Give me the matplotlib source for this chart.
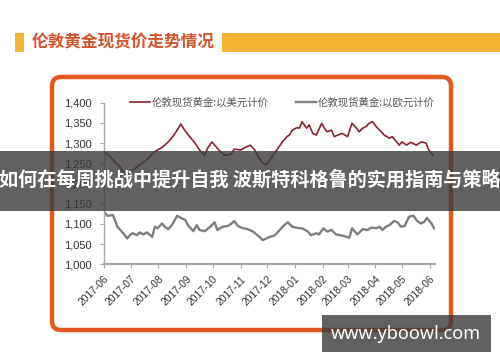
import matplotlib
matplotlib.use("Agg")
import matplotlib.pyplot as plt
import matplotlib.dates as mdates
import matplotlib.ticker as mticker
from matplotlib.patches import Rectangle, FancyBboxPatch
import pandas as pd

plt.rcParams["font.family"] = ["Liberation Sans", "Noto Sans CJK SC"]

title = "伦敦黄金现货价走势情况"
label_usd = "伦敦现货黄金:以美元计价"
label_eur = "伦敦现货黄金:以欧元计价"
banner = "如何在每周挑战中提升自我 波斯特科格鲁的实用指南与策略"
site = "www.yboowl.com"

usd_dates = [
    "2017-06-01", "2017-06-08", "2017-06-13", "2017-06-19", "2017-06-24", "2017-06-28",
    "2017-07-03", "2017-07-11", "2017-07-19", "2017-07-26", "2017-07-31", "2017-08-06",
    "2017-08-12", "2017-08-17", "2017-08-22", "2017-08-26", "2017-08-31", "2017-09-05",
    "2017-09-11", "2017-09-16", "2017-09-22", "2017-09-25", "2017-09-30", "2017-10-03",
    "2017-10-09", "2017-10-14", "2017-10-21", "2017-10-25", "2017-11-01", "2017-11-07",
    "2017-11-12", "2017-11-17", "2017-11-21", "2017-11-26", "2017-11-30", "2017-12-05",
    "2017-12-13", "2017-12-18", "2017-12-23", "2017-12-26", "2017-12-29", "2018-01-03",
    "2018-01-06", "2018-01-09", "2018-01-14", "2018-01-17", "2018-01-21", "2018-01-25",
    "2018-01-31", "2018-02-03", "2018-02-06", "2018-02-11", "2018-02-14", "2018-02-18",
    "2018-02-23", "2018-03-01", "2018-03-06", "2018-03-11", "2018-03-14", "2018-03-18",
    "2018-03-22", "2018-03-25", "2018-03-29", "2018-04-02", "2018-04-06", "2018-04-11",
    "2018-04-17", "2018-04-20", "2018-04-25", "2018-04-28", "2018-05-01", "2018-05-06",
    "2018-05-11", "2018-05-17", "2018-05-23", "2018-05-28", "2018-05-31", "2018-06-05",
]
usd_values = [
    1279, 1266, 1254, 1241, 1223, 1218,
    1233, 1246, 1258, 1275, 1283, 1291,
    1303, 1316, 1332, 1347, 1330, 1316,
    1300, 1283, 1270, 1287, 1303, 1295,
    1280, 1270, 1272, 1285, 1283, 1290,
    1295, 1283, 1266, 1250, 1246, 1262,
    1287, 1303, 1316, 1320, 1332, 1338,
    1337, 1353, 1337, 1345, 1324, 1320,
    1349, 1337, 1328, 1332, 1316, 1320,
    1324, 1316, 1349, 1337, 1328, 1337,
    1341, 1349, 1353, 1341, 1332, 1320,
    1312, 1316, 1303, 1295, 1303, 1295,
    1302, 1295, 1303, 1300, 1283, 1269,
]

eur_dates = [
    "2017-06-01", "2017-06-05", "2017-06-11", "2017-06-16", "2017-06-21", "2017-06-27",
    "2017-06-30", "2017-07-03", "2017-07-08", "2017-07-11", "2017-07-15", "2017-07-19",
    "2017-07-25", "2017-07-28", "2017-07-31", "2017-08-05", "2017-08-08", "2017-08-12",
    "2017-08-16", "2017-08-22", "2017-08-27", "2017-08-31", "2017-09-03", "2017-09-09",
    "2017-09-13", "2017-09-16", "2017-09-22", "2017-09-28", "2017-10-03", "2017-10-06",
    "2017-10-12", "2017-10-18", "2017-10-22", "2017-10-25", "2017-10-29", "2017-11-03",
    "2017-11-09", "2017-11-15", "2017-11-20", "2017-11-26", "2017-11-30", "2017-12-04",
    "2017-12-09", "2017-12-15", "2017-12-20", "2017-12-24", "2017-12-29", "2018-01-04",
    "2018-01-09", "2018-01-15", "2018-01-19", "2018-01-25", "2018-01-28", "2018-02-02",
    "2018-02-06", "2018-02-11", "2018-02-16", "2018-02-23", "2018-03-03", "2018-03-06",
    "2018-03-12", "2018-03-18", "2018-03-23", "2018-03-28", "2018-04-02", "2018-04-06",
    "2018-04-09", "2018-04-13", "2018-04-17", "2018-04-22", "2018-04-26", "2018-04-30",
    "2018-05-04", "2018-05-09", "2018-05-14", "2018-05-18", "2018-05-22", "2018-05-26",
    "2018-05-29", "2018-06-03", "2018-06-06",
]
eur_values = [
    1130, 1120, 1122, 1093, 1081, 1064,
    1072, 1077, 1072, 1079, 1074, 1079,
    1068, 1093, 1089, 1101, 1093, 1087,
    1097, 1120, 1114, 1110, 1097, 1082,
    1097, 1085, 1082, 1093, 1104, 1085,
    1093, 1095, 1101, 1107, 1095, 1090,
    1087, 1081, 1072, 1060, 1064, 1068,
    1071, 1085, 1097, 1104, 1093, 1090,
    1089, 1082, 1072, 1077, 1074, 1089,
    1081, 1085, 1074, 1071, 1066, 1089,
    1074, 1087, 1085, 1091, 1089, 1093,
    1085, 1093, 1097, 1107, 1104, 1093,
    1095, 1118, 1120, 1107, 1101, 1105,
    1115, 1101, 1089,
]

y_ticks = [1000, 1050, 1100, 1150, 1200, 1250, 1300, 1350, 1400]

W, H = 500, 362
fig = plt.figure(figsize=(W / 100, H / 100), dpi=100)
fig.patch.set_facecolor("white")

# background layer in pixel coordinates: title bar and rounded frame
bg = fig.add_axes([0, 0, 1, 1], zorder=0)
bg.set_xlim(0, W)
bg.set_ylim(H, 0)
bg.axis("off")
bg.add_patch(Rectangle((15, 33), 9, 19, facecolor="#F5B433", edgecolor="none"))
bg.add_patch(Rectangle((222, 33), 278, 19, facecolor="#F5B433", edgecolor="none"))
bg.text(32, 42.5, title, ha="left", va="center", fontsize=12, fontweight="bold",
        color="#D4542A", family=["Noto Sans CJK SC"])
bg.add_patch(FancyBboxPatch((52, 77), 399, 253,
                            boxstyle="round,pad=0,rounding_size=9",
                            facecolor="white", edgecolor="#E2591F", linewidth=3.2))

# chart
ax = fig.add_axes([104 / W, 1 - 264.3 / H, 331 / W, 161.6 / H], zorder=1)
ax.patch.set_alpha(0)
ax.plot(pd.to_datetime(usd_dates), usd_values, color="#8B2232", lw=1.2, label=label_usd)
ax.plot(pd.to_datetime(eur_dates), eur_values, color="#7F7F7F", lw=1.7, label=label_eur)

ax.set_ylim(1000, 1400)
ax.set_yticks(y_ticks)
ax.yaxis.set_major_formatter(mticker.FuncFormatter(lambda v, p: f"{int(v):,}"))
ax.set_xlim(pd.Timestamp("2017-06-01"), pd.Timestamp("2018-06-07"))
ax.xaxis.set_major_locator(mdates.MonthLocator())
ax.xaxis.set_major_formatter(mdates.DateFormatter("%Y-%m"))

for s in ("top", "right"):
    ax.spines[s].set_visible(False)
ax.spines["left"].set_color("#A8A8A8")
ax.spines["left"].set_linewidth(1.0)
ax.spines["bottom"].set_color("#A8A8A8")
ax.spines["bottom"].set_linewidth(1.6)
ax.tick_params(axis="y", direction="out", length=3, color="#A8A8A8",
               labelsize=8, labelcolor="#333333", pad=6)
ax.tick_params(axis="x", direction="out", length=3, color="#A8A8A8",
               labelsize=7.4, labelcolor="#333333", pad=4)
for lab in ax.get_xticklabels():
    lab.set_rotation(45)
    lab.set_ha("right")
    lab.set_va("top")
    lab.set_rotation_mode("anchor")

ax.legend(loc="center left", bbox_to_anchor=(0.063, 1.0), ncol=2, frameon=False,
          borderpad=0, handlelength=1.9, handletextpad=0.2, columnspacing=2.6,
          prop={"family": "Noto Sans CJK SC", "size": 7.5}, labelcolor="#555555")

# watermark overlay
fg = fig.add_axes([0, 0, 1, 1], zorder=2)
fg.set_xlim(0, W)
fg.set_ylim(H, 0)
fg.axis("off")
fg.add_patch(Rectangle((0, 151), W, 60, facecolor="#3A3A3A", alpha=0.8, edgecolor="none"))
fg.text(250, 180, banner, ha="center", va="center", fontsize=13.8, fontweight="bold",
        color="white", family=["Noto Sans CJK SC"])
fg.add_patch(Rectangle((322, 315), 169, 37, facecolor="#3A3A3A", alpha=0.8, edgecolor="none"))
fg.text(406, 334, site, ha="center", va="center", fontsize=13, fontweight="bold",
        color="white", family=["Noto Sans"])

fig.savefig("out.png", dpi=100)
